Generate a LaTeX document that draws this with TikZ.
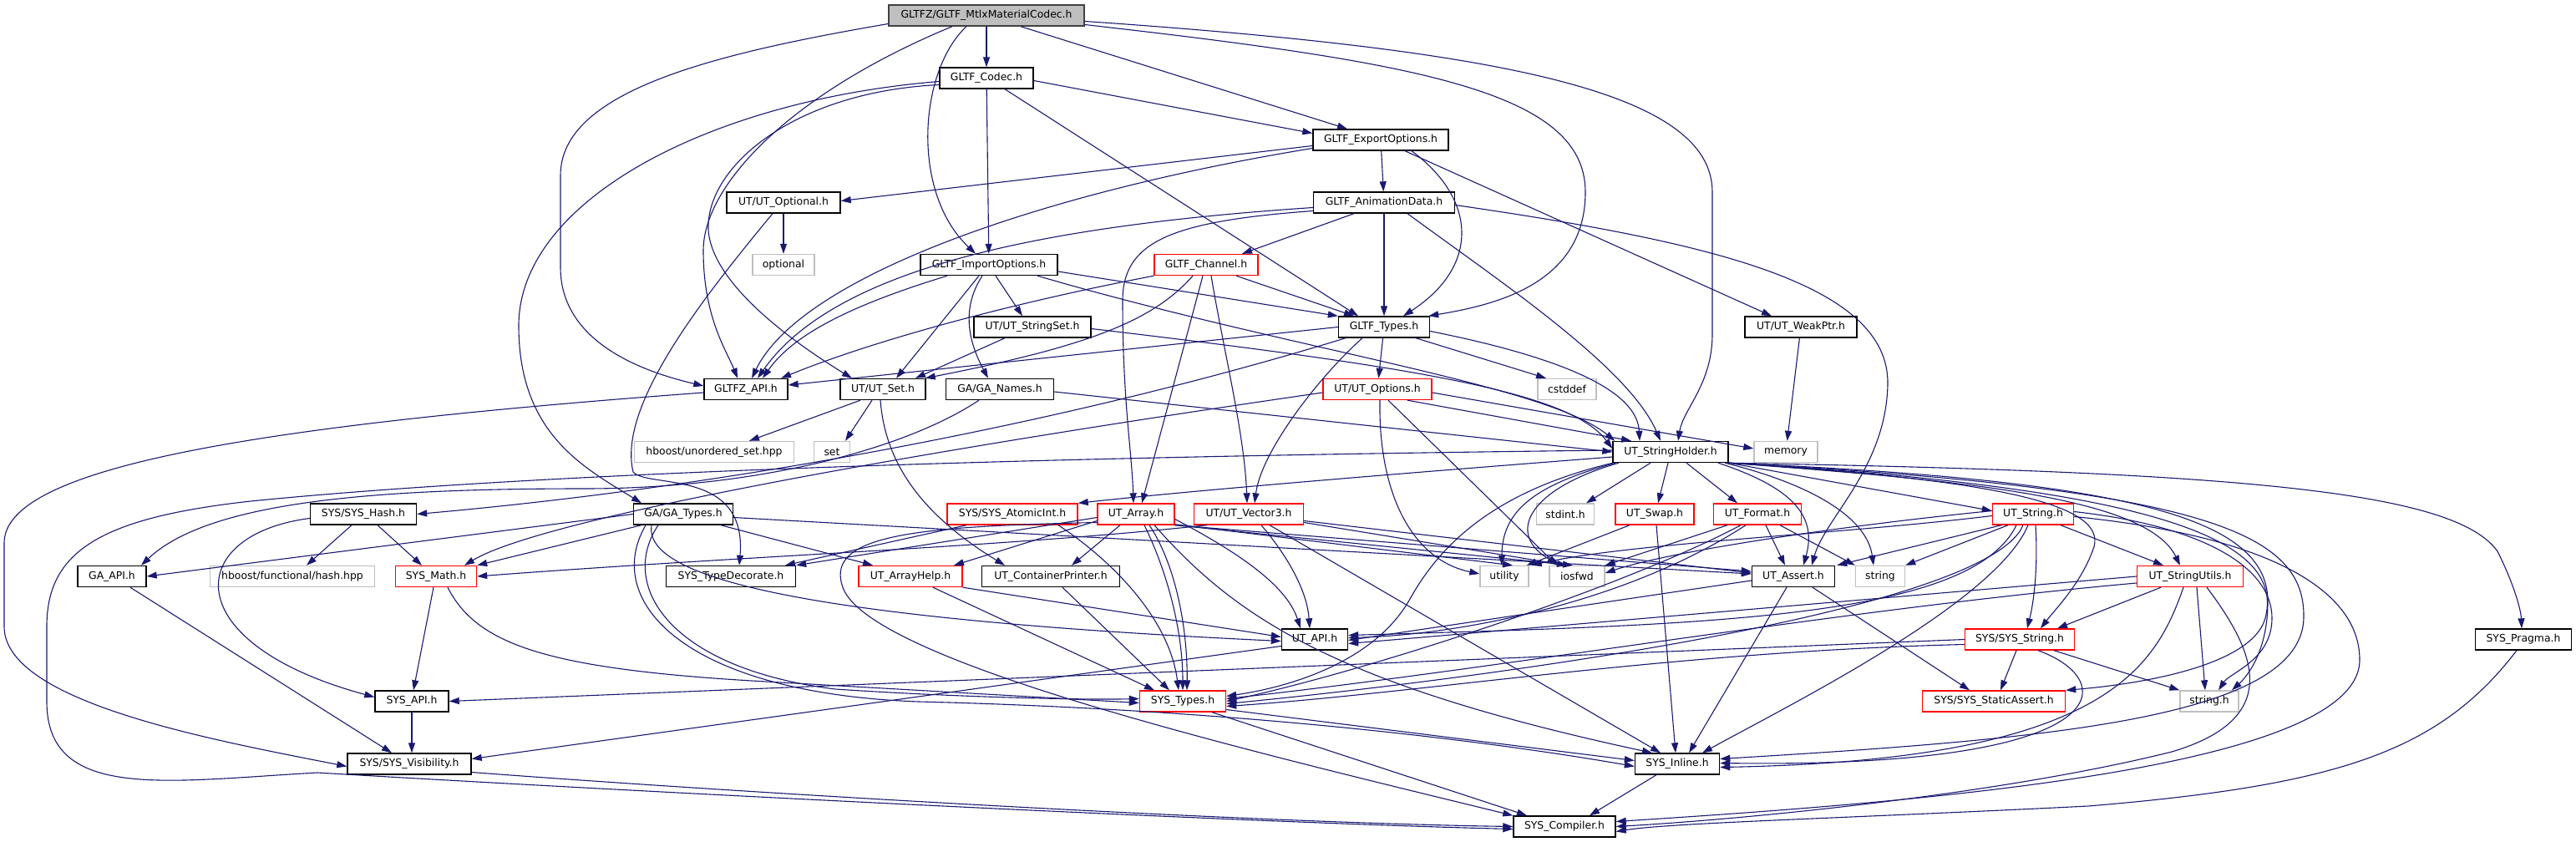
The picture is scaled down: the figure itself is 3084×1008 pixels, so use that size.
\documentclass[tikz,border=0pt]{standalone}
\usepackage{fontspec}
\setmainfont{DejaVu Sans}
\usetikzlibrary{arrows.meta}
\definecolor{edgec}{HTML}{191970}
\definecolor{nred}{HTML}{FF0000}
\definecolor{ngray}{HTML}{BFBFBF}
\definecolor{rootb}{HTML}{404040}
\tikzset{
 nb/.style={draw=black, line width=1.4pt, fill=white, minimum height=25pt, inner sep=0pt, font=\fontsize{12.4}{14}\selectfont},
 nr/.style={nb, draw=nred},
 ng/.style={nb, draw=ngray},
 nroot/.style={nb, fill=ngray, draw=rootb},
 edg/.style={draw=edgec, line width=1.1pt, -{Triangle[length=12pt,width=8pt]}}
}
\begin{document}
\begin{tikzpicture}[x=1pt,y=-1pt]
\useasboundingbox (0,0) rectangle (3084,1008);
% nodes
\node[nroot, minimum width=234pt] (root) at (1181,18.5) {GLTFZ/GLTF\_MtlxMaterialCodec.h};
\node[nb, minimum width=112pt] (codec) at (1181,93.5) {GLTF\_Codec.h};
\node[nb, minimum width=162pt] (exp) at (1653,167.5) {GLTF\_ExportOptions.h};
\node[nb, minimum width=136pt] (opt) at (938,242.5) {UT/UT\_Optional.h};
\node[nb, minimum width=169pt] (anim) at (1657,242.5) {GLTF\_AnimationData.h};
\node[ng, minimum width=74pt] (optional) at (938,317) {optional};
\node[nb, minimum width=164pt] (imp) at (1184,317) {GLTF\_ImportOptions.h};
\node[nr, minimum width=124pt] (chan) at (1444,317) {GLTF\_Channel.h};
\node[nb, minimum width=140pt] (sset) at (1236,391.5) {UT/UT\_StringSet.h};
\node[nb, minimum width=109pt] (types) at (1657,391.5) {GLTF\_Types.h};
\node[nb, minimum width=134pt] (weak) at (2156,391.5) {UT/UT\_WeakPtr.h};
\node[nb, minimum width=100pt] (gapi) at (893,466) {GLTFZ\_API.h};
\node[nb, minimum width=102pt] (uset) at (1057,466) {UT/UT\_Set.h};
\node[nb, minimum width=129pt] (names) at (1197,466) {GA/GA\_Names.h};
\node[nr, minimum width=130pt] (uopts) at (1649,466) {UT/UT\_Options.h};
\node[ng, minimum width=70pt] (cstddef) at (1876,466) {cstddef};
\node[ng, minimum width=191pt] (huset) at (855,541) {hboost/unordered\_set.hpp};
\node[ng, minimum width=43pt] (set) at (996,541) {set};
\node[nb, minimum width=138pt] (sh) at (2000,541) {UT\_StringHolder.h};
\node[ng, minimum width=76pt] (memory) at (2138,541) {memory};
\node[nb, minimum width=127pt] (hash) at (435,615.5) {SYS/SYS\_Hash.h};
\node[nb, minimum width=119pt] (gat) at (818,615.5) {GA/GA\_Types.h};
\node[nr, minimum width=156pt] (atom) at (1212,615.5) {SYS/SYS\_AtomicInt.h};
\node[nr, minimum width=92pt] (arr) at (1360,615.5) {UT\_Array.h};
\node[nr, minimum width=131pt] (vec) at (1495,615.5) {UT/UT\_Vector3.h};
\node[ng, minimum width=69pt] (stdint) at (1874,615.5) {stdint.h};
\node[nr, minimum width=94pt] (swap) at (1981,615.5) {UT\_Swap.h};
\node[nr, minimum width=105pt] (fmt) at (2104,615.5) {UT\_Format.h};
\node[nr, minimum width=97pt] (ustr) at (2434,615.5) {UT\_String.h};
\node[nb, minimum width=82pt] (gaapi) at (134,690) {GA\_API.h};
\node[ng, minimum width=197pt] (hhash) at (350,690) {hboost/functional/hash.hpp};
\node[nr, minimum width=97pt] (math) at (522,690) {SYS\_Math.h};
\node[nb, minimum width=155pt] (tdec) at (875,690) {SYS\_TypeDecorate.h};
\node[nr, minimum width=124pt] (ahelp) at (1090,690) {UT\_ArrayHelp.h};
\node[nb, minimum width=165pt] (cprint) at (1258,690) {UT\_ContainerPrinter.h};
\node[ng, minimum width=58pt] (utility) at (1801,690) {utility};
\node[ng, minimum width=66pt] (iosfwd) at (1888,690) {iosfwd};
\node[nb, minimum width=99pt] (assert) at (2147,690) {UT\_Assert.h};
\node[ng, minimum width=59pt] (string) at (2251,690) {string};
\node[nr, minimum width=127pt] (sutils) at (2622,690) {UT\_StringUtils.h};
\node[nb, minimum width=79pt] (uapi) at (1574,765.5) {UT\_API.h};
\node[nr, minimum width=131pt] (sstr) at (2418,765.5) {SYS/SYS\_String.h};
\node[nb, minimum width=115pt] (pragma) at (3021,765.5) {SYS\_Pragma.h};
\node[nb, minimum width=88pt] (sapi) at (493,839.5) {SYS\_API.h};
\node[nr, minimum width=103pt] (stypes) at (1416,839.5) {SYS\_Types.h};
\node[nr, minimum width=171pt] (sassert) at (2387,839.5) {SYS/SYS\_StaticAssert.h};
\node[ng, minimum width=70pt] (stringh) at (2645,839.5) {string.h};
\node[nb, minimum width=148pt] (vis) at (490,914.5) {SYS/SYS\_Visibility.h};
\node[nb, minimum width=101pt] (inline) at (2008,914.5) {SYS\_Inline.h};
\node[nb, minimum width=122pt] (comp) at (1873,989.5) {SYS\_Compiler.h};
% root
\draw[edg] (root) -- (codec);
\draw[edg] ([xshift=-24pt]root.south) .. controls (1100,85) and (1090,230) .. ([xshift=-16pt]imp.north);
\draw[edg] ([xshift=41pt]root.south) -- ([xshift=-40pt]exp.north);
\draw[edg] ([yshift=-11pt]root.east) .. controls (1700,75) and (1898,110) .. (1898,230) .. controls (1898,340) and (1790,365) .. ([xshift=-2pt]types.north east);
\draw[edg] ([yshift=-7pt]root.east) .. controls (1800,60) and (2050,110) .. (2050,230) -- (2050,400) .. controls (2050,460) and (2015,490) .. ([xshift=9pt]sh.north);
\draw[edg] ([yshift=-10pt]root.west) .. controls (850,65) and (671,110) .. (671,210) -- (671,320) .. controls (671,410) and (770,445) .. ([yshift=4pt]gapi.west);
\draw[edg] ([xshift=-41pt]root.south) .. controls (950,110) and (842,220) .. (842,300) .. controls (842,380) and (870,420) .. ([xshift=-10pt]gapi.north);
% codec
\draw[edg] (codec) -- (imp);
\draw[edg] ([yshift=-3pt]codec.east) -- ([yshift=8pt]exp.west);
\draw[edg] ([xshift=22pt]codec.south) -- ([xshift=-31pt]types.north);
\draw[edg] ([yshift=-4pt]codec.west) .. controls (850,120) and (621,240) .. (621,390) .. controls (621,520) and (700,560) .. ([xshift=-50pt]gat.north);
\draw[edg] ([yshift=-8pt]codec.west) .. controls (950,110) and (845,200) .. (848,275) .. controls (852,340) and (950,410) .. ([xshift=-37pt]uset.north);
% exp
\draw[edg] ([yshift=-7pt]exp.west) -- ([yshift=2pt]opt.east);
\draw[edg] ([yshift=-10pt]exp.west) .. controls (1250,230) and (960,330) .. ([xshift=7pt]gapi.north);
\draw[edg] (exp) -- (anim);
\draw[edg] ([xshift=37pt]exp.south) .. controls (1770,240) and (1770,320) .. ([xshift=23pt]types.north);
\draw[edg] ([xshift=29pt]exp.south) -- ([xshift=-35pt]weak.north);
% anim
\draw[edg] (anim) -- (types);
\draw[edg] ([yshift=-6pt]anim.west) .. controls (1250,270) and (1000,320) .. ([xshift=14pt]gapi.north);
\draw[edg] ([yshift=-10pt]anim.west) .. controls (1400,265) and (1344,290) .. (1344,360) .. controls (1344,480) and (1355,540) .. ([xshift=-3pt]arr.north);
\draw[edg] ([xshift=-36pt]anim.south) -- ([xshift=43pt]chan.north);
\draw[edg] ([xshift=28pt]anim.south) .. controls (1800,340) and (1950,440) .. ([xshift=-12pt]sh.north);
\draw[edg] ([yshift=-3pt]anim.east) .. controls (2050,290) and (2262,340) .. (2260,460) .. controls (2258,560) and (2185,620) .. ([xshift=22pt]assert.north);
% opt
\draw[edg] (opt) -- (optional);
\draw[edg] ([xshift=-13pt]opt.south) .. controls (830,370) and (740,490) .. (758,565) .. controls (775,585) and (895,560) .. ([xshift=10pt]tdec.north);
% imp
\draw[edg] ([xshift=-50pt]imp.south) .. controls (1020,365) and (950,400) .. ([xshift=20pt]gapi.north);
\draw[edg] ([xshift=-12pt]imp.south) -- ([xshift=16pt]uset.north);
\draw[edg] ([xshift=8pt]imp.south) -- ([xshift=-12pt]sset.north);
\draw[edg] ([xshift=-8pt]imp.south) .. controls (1150,370) and (1160,410) .. ([xshift=-14pt]names.north);
\draw[edg] ([yshift=-8pt]imp.east) -- (types.north west);
\draw[edg] ([xshift=58pt]imp.south) .. controls (1550,420) and (1850,460) .. ([xshift=3pt]sh.north west);
% chan
\draw[edg] (chan.south west) .. controls (1200,365) and (1040,410) .. ([xshift=42pt]gapi.north);
\draw[edg] ([xshift=-16pt]chan.south) .. controls (1380,385) and (1300,415) .. ([xshift=-1pt]uset.north east);
\draw[edg] ([xshift=-4pt]chan.south) -- ([xshift=7pt]arr.north);
\draw[edg] ([xshift=6pt]chan.south) .. controls (1465,420) and (1490,520) .. ([xshift=-2pt]vec.north);
\draw[edg] ([xshift=36pt]chan.south) -- ([xshift=-36pt]types.north);
% sset
\draw[edg] ([xshift=-33pt]sset.south) -- ([xshift=39pt]uset.north);
\draw[edg] ([yshift=-2pt]sset.east) .. controls (1700,440) and (1880,470) .. ([yshift=4pt]sh.west);
% types
\draw[edg] (types.west) -- ([yshift=5pt]gapi.east);
\draw[edg] (types) -- (uopts);
\draw[edg] ([xshift=38pt]types.south) -- ([xshift=-25pt]cstddef.north);
\draw[edg] ([yshift=-5pt]types.east) .. controls (1880,430) and (1960,470) .. ([xshift=-37pt]sh.north);
\draw[edg] ([xshift=-26pt]types.south) .. controls (1580,450) and (1510,540) .. ([xshift=7pt]vec.north);
\draw[edg] ([xshift=-46pt]types.south) .. controls (1300,500) and (900,580) .. (hash.east);
% uopts
\draw[edg] ([yshift=-4pt]uopts.west) .. controls (1100,540) and (650,620) .. ([xshift=34pt]math.north);
\draw[edg] ([xshift=3pt]uopts.south) .. controls (1650,590) and (1690,670) .. ([yshift=3pt]utility.west);
\draw[edg] ([xshift=13pt]uopts.south) -- ([xshift=-24pt]iosfwd.north);
\draw[edg] ([xshift=36pt]uopts.south) -- ([xshift=-47pt]sh.north);
\draw[edg] ([yshift=-4pt]uopts.east) -- ([yshift=4pt]memory.west);
% weak
\draw[edg] (weak) -- (memory);
% gapi
\draw[edg] ([yshift=-4pt]gapi.west) .. controls (300,510) and (5,560) .. (5,650) -- (5,750) .. controls (5,840) and (250,885) .. ([yshift=-3pt]vis.west);
% names
\draw[edg] ([xshift=-25pt]names.south) .. controls (1080,540) and (900,585) .. (700,585) .. controls (450,585) and (250,600) .. ([xshift=35pt]gaapi.north);
\draw[edg] ([yshift=-3pt]names.east) -- (sh.west);
% uset
\draw[edg] ([xshift=-27pt]uset.south) -- ([xshift=42pt]huset.north);
\draw[edg] ([xshift=-13pt]uset.south) -- ([xshift=16pt]set.north);
\draw[edg] ([xshift=-3pt]uset.south) .. controls (1060,560) and (1110,620) .. ([xshift=-55pt]cprint.north);
% sh
\draw[edg] ([yshift=2pt]sh.west) .. controls (1400,545) and (700,560) .. (300,600) .. controls (120,620) and (56,660) .. (56,750) -- (56,840) .. controls (56,960) and (200,935) .. (380,925) .. controls (800,950) and (1500,985) .. ([yshift=-3pt]comp.west);
\draw[edg] ([yshift=-6pt]sh.west) .. controls (1700,565) and (1450,585) .. (atom.north east);
\draw[edg] ([xshift=-24pt]sh.south) -- ([xshift=25pt]stdint.north);
\draw[edg] ([xshift=-3pt]sh.south) -- ([xshift=4pt]swap.north);
\draw[edg] ([xshift=19pt]sh.south) -- ([xshift=-24pt]fmt.north);
\draw[edg] ([xshift=-66pt]sh.south) .. controls (1840,580) and (1798,610) .. ([xshift=-3pt]utility.north);
\draw[edg] ([xshift=-62pt]sh.south) .. controls (1830,585) and (1800,640) .. ([xshift=-20pt]iosfwd.north);
\draw[edg] ([xshift=57pt]sh.south) .. controls (2150,585) and (2175,620) .. ([xshift=12pt]assert.north);
\draw[edg] ([xshift=65pt]sh.south) .. controls (2170,580) and (2235,620) .. ([xshift=-8pt]string.north);
\draw[edg] (sh.south east) -- ([yshift=4pt]ustr.west);
\draw[edg] ([xshift=-1pt]sh.south east) .. controls (2350,575) and (2570,595) .. ([xshift=-12pt]sutils.north);
\draw[edg] ([xshift=-1pt]sh.south east) .. controls (2400,575) and (2530,605) .. (2505,660) .. controls (2490,700) and (2460,730) .. ([xshift=25pt]sstr.north);
\draw[edg] ([xshift=-1pt]sh.south east) .. controls (2550,575) and (2715,620) .. (2715,720) .. controls (2715,780) and (2690,810) .. ([xshift=27pt]stringh.north);
\draw[edg] ([xshift=-1pt]sh.south east) .. controls (2600,585) and (2735,650) .. (2712,740) .. controls (2695,800) and (2550,820) .. (sassert.north east);
\draw[edg] ([xshift=-1pt]sh.south east) .. controls (2650,585) and (2760,640) .. (2758,740) .. controls (2755,860) and (2450,885) .. ([yshift=6pt]inline.east);
\draw[edg] ([xshift=-1pt]sh.south east) .. controls (2700,565) and (2940,590) .. (2990,660) .. controls (3010,700) and (3018,730) .. ([xshift=-2pt]pragma.north);
\draw[edg] ([xshift=-69pt]sh.south) .. controls (1780,590) and (1720,660) .. (1688,717) .. controls (1650,785) and (1560,820) .. ([yshift=6pt]stypes.east);
% hash
\draw[edg] ([xshift=-14pt]hash.south) -- ([xshift=17pt]hhash.north);
\draw[edg] ([xshift=17pt]hash.south) -- ([xshift=-17pt]math.north);
\draw[edg] ([yshift=-5pt]hash.west) .. controls (220,640) and (210,770) .. ([yshift=5pt]sapi.west);
% gat
\draw[edg] (gat.west) -- (gaapi.east);
\draw[edg] ([xshift=-50pt]gat.south) -- (math.north east);
\draw[edg] ([xshift=45pt]gat.south) -- ([xshift=-45pt]ahelp.north);
\draw[edg] ([xshift=-30pt]gat.south) .. controls (740,700) and (800,800) .. (1000,825) .. controls (1150,835) and (1300,838) .. ([yshift=3pt]stypes.west);
\draw[edg] ([yshift=-4pt]gat.east) -- ([yshift=3pt]assert.west);
\draw[edg] ([xshift=-45pt]gat.south) .. controls (720,720) and (820,830) .. (1100,840) .. controls (1500,850) and (1800,890) .. ([yshift=-3pt]inline.west);
\draw[edg] ([xshift=-38pt]gat.south) .. controls (770,690) and (950,740) .. ([yshift=-2pt]uapi.west);
% gaapi
\draw[edg] ([xshift=22pt]gaapi.south) -- ([xshift=-21pt]vis.north);
% math
\draw[edg] ([xshift=-3pt]math.south) -- ([xshift=2pt]sapi.north);
\draw[edg] ([xshift=14pt]math.south) .. controls (570,770) and (650,800) .. (900,815) -- ([yshift=-2pt]stypes.west);
% sapi, vis
\draw[edg] (sapi) -- ([xshift=3pt]vis.north);
\draw[edg] ([yshift=-10pt]vis.east) .. controls (900,950) and (1500,985) .. (comp.west);
% atom
\draw[edg] ([xshift=-55pt]atom.south) -- ([xshift=65pt]tdec.north);
\draw[edg] ([xshift=55pt]atom.south) .. controls (1330,670) and (1400,740) .. ([xshift=-5pt]stypes.north);
% arr
\draw[edg] ([yshift=-4pt]arr.west) -- (tdec.north east);
\draw[edg] ([yshift=-8pt]arr.west) -- ([xshift=52pt]ahelp.north);
\draw[edg] ([xshift=-19pt]arr.south) -- ([xshift=25pt]cprint.north);
\draw[edg] ([xshift=10pt]arr.south) .. controls (1400,690) and (1416,760) .. ([xshift=0pt]stypes.north);
\draw[edg] ([xshift=16pt]arr.south) .. controls (1410,680) and (1422,760) .. ([xshift=5pt]stypes.north);
\draw[edg] ([yshift=-6pt]arr.east) .. controls (1480,660) and (1540,700) .. ([xshift=-17pt]uapi.north);
\draw[edg] ([yshift=-10pt]arr.west) .. controls (1100,630) and (990,640) .. (1008,700) .. controls (1030,790) and (1500,900) .. (comp.north west);
\draw[edg] ([yshift=1pt]arr.south east) -- ([xshift=10pt]utility.north);
\draw[edg] (arr.south east) -- ([xshift=-5pt]iosfwd.north);
\draw[edg] (arr.south east) -- ([yshift=6pt]assert.west);
\draw[edg] ([xshift=22pt]arr.south) .. controls (1480,740) and (1600,820) .. ([xshift=-30pt]inline.north);
% vec
\draw[edg] ([xshift=15pt]vec.south) .. controls (1545,670) and (1565,710) .. ([xshift=-6pt]uapi.north);
\draw[edg] ([yshift=-8pt]vec.east) -- ([yshift=4pt]assert.west);
\draw[edg] ([xshift=25pt]vec.south) -- ([xshift=-20pt]inline.north);
\draw[edg] ([yshift=-10pt]vec.east) -- ([xshift=-12pt]iosfwd.north);
\draw[edg] ([xshift=-50pt]vec.south) .. controls (1200,655) and (900,665) .. (math.east);
% ahelp
\draw[edg] ([xshift=27pt]ahelp.south) -- ([xshift=-34pt]stypes.north);
\draw[edg] (ahelp.south east) -- ([yshift=3pt]uapi.west);
% cprint
\draw[edg] ([xshift=14pt]cprint.south) -- ([xshift=-16pt]stypes.north);
% stypes
\draw[edg] ([yshift=-10pt]stypes.east) -- ([yshift=4pt]inline.west);
\draw[edg] ([xshift=35pt]stypes.south) -- ([xshift=-45pt]comp.north);
% uapi
\draw[edg] ([yshift=-8pt]uapi.west) -- ([yshift=6pt]vis.east);
% inline
\draw[edg] ([xshift=-25pt]inline.south) -- ([xshift=30pt]comp.north);
% swap
\draw[edg] ([xshift=-30pt]swap.south) -- ([xshift=-3pt]utility.north east);
\draw[edg] ([xshift=2pt]swap.south) -- ([xshift=-2pt]inline.north);
% fmt
\draw[edg] ([xshift=-36pt]fmt.south) -- (iosfwd.north east);
\draw[edg] ([xshift=-14pt]fmt.south) .. controls (1950,720) and (1750,760) .. ([yshift=2pt]uapi.east);
\draw[edg] ([xshift=-20pt]fmt.south) .. controls (1950,700) and (1650,800) .. ([yshift=0pt]stypes.east);
\draw[edg] ([xshift=10pt]fmt.south) -- ([xshift=-10pt]assert.north);
\draw[edg] ([xshift=27pt]fmt.south) -- (string.north west);
% assert
\draw[edg] ([yshift=-5pt]assert.west) -- ([yshift=-1pt]uapi.east);
\draw[edg] ([xshift=-8pt]assert.south) -- ([xshift=14pt]inline.north);
\draw[edg] ([xshift=23pt]assert.south) -- ([xshift=-29pt]sassert.north);
% ustr
\draw[edg] ([yshift=4pt]ustr.west) .. controls (2200,630) and (2000,660) .. ([yshift=4pt]iosfwd.east);
\draw[edg] ([yshift=-2pt]ustr.west) .. controls (2200,640) and (1950,650) .. ([xshift=3pt]utility.north east);
\draw[edg] ([xshift=-20pt]ustr.south) .. controls (2360,740) and (2050,748) .. ([yshift=5pt]uapi.east);
\draw[edg] ([xshift=-30pt]ustr.south) -- (string.north east);
\draw[edg] ([xshift=-38pt]ustr.south) -- ([xshift=2pt]assert.north east);
\draw[edg] ([xshift=-12pt]ustr.south) .. controls (2380,730) and (1800,810) .. ([yshift=-3pt]stypes.east);
\draw[edg] ([xshift=-6pt]ustr.south) .. controls (2390,720) and (2150,840) .. ([xshift=30pt]inline.north);
\draw[edg] ([xshift=3pt]ustr.south) .. controls (2440,680) and (2435,720) .. ([xshift=9pt]sstr.north);
\draw[edg] ([xshift=33pt]ustr.south) -- ([xshift=-32pt]sutils.north);
\draw[edg] ([yshift=3pt]ustr.east) .. controls (2640,630) and (2720,680) .. (2720,740) .. controls (2720,790) and (2670,805) .. ([xshift=11pt]stringh.north);
\draw[edg] ([yshift=-3pt]ustr.east) .. controls (2700,640) and (2825,700) .. (2825,790) .. controls (2825,920) and (2300,960) .. ([yshift=6pt]comp.east);
% sutils
\draw[edg] (sutils.west) -- ([yshift=-5pt]uapi.east);
\draw[edg] ([xshift=-35pt]sutils.south) -- ([xshift=45pt]sstr.north);
\draw[edg] ([yshift=-8pt]sutils.west) .. controls (2200,730) and (1800,800) .. ([yshift=3pt]stypes.east);
\draw[edg] ([xshift=-8pt]sutils.south) .. controls (2580,800) and (2520,910) .. ([yshift=-4pt]inline.east);
\draw[edg] ([xshift=8pt]sutils.south) -- ([xshift=-5pt]stringh.north);
\draw[edg] ([xshift=20pt]sutils.south) .. controls (2700,780) and (2735,860) .. (2600,900) .. controls (2400,950) and (2100,980) .. ([yshift=0pt]comp.east);
% sstr
\draw[edg] (sstr.west) -- (sapi.east);
\draw[edg] ([yshift=-6pt]sstr.west) .. controls (2000,780) and (1700,830) .. ([yshift=-6pt]stypes.east);
\draw[edg] ([xshift=-4pt]sstr.south) -- ([xshift=8pt]sassert.north);
\draw[edg] ([xshift=41pt]sstr.south) -- (stringh.north west);
\draw[edg] ([xshift=22pt]sstr.south) .. controls (2540,815) and (2540,920) .. ([yshift=1pt]inline.east);
% pragma
\draw[edg] ([xshift=-8pt]pragma.south) .. controls (2920,900) and (2800,940) .. (2500,965) .. controls (2200,980) and (2000,985) .. ([yshift=-6pt]comp.east);
\end{tikzpicture}
\end{document}
